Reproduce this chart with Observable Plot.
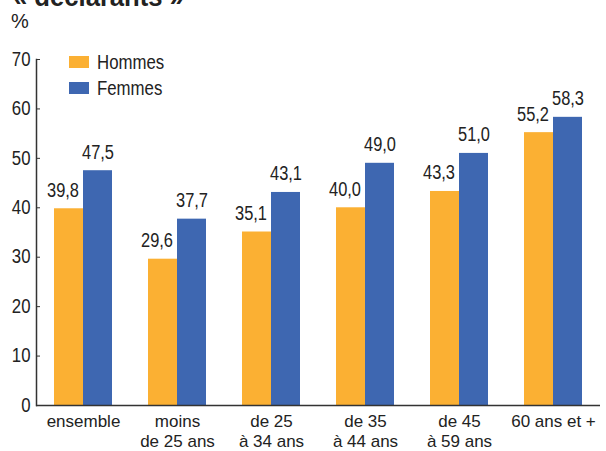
<!DOCTYPE html>
<html>
<head>
<meta charset="utf-8">
<script src="https://cdn.jsdelivr.net/npm/d3@7"></script>
<script src="https://cdn.jsdelivr.net/npm/@observablehq/plot@0.6"></script>
<style>
  html, body { margin: 0; padding: 0; background: #fff; }
  #wrap { position: relative; width: 606px; height: 451px; overflow: hidden; }
  #title { position: absolute; left: 13px; top: -19px; line-height: 1; font: bold 28px "Liberation Sans", Arial, sans-serif; color: #222; white-space: nowrap; transform: scaleX(0.915); transform-origin: left top; }
  #unit { position: absolute; left: 11px; top: 10px; line-height: 1; font: 20px "Liberation Sans", Arial, sans-serif; color: #222; }
  #legend { position: absolute; left: 69px; top: 49px; font: 20px "Liberation Sans", Arial, sans-serif; color: #222; }
  .item { display: flex; align-items: center; height: 26px; }
  .sw { width: 20px; height: 12px; margin-right: 8px; flex: none; }
  .lab { display: inline-block; transform: scaleX(0.84); transform-origin: left center; white-space: nowrap; }
</style>
</head>
<body>
<div id="wrap">
  <div id="title">« déclarants »</div>
  <div id="unit">%</div>
  <div id="legend"></div>
</div>
<script>
const categories = ["ensemble", "moins\nde 25 ans", "de 25\nà 34 ans", "de 35\nà 44 ans", "de 45\nà 59 ans", "60 ans et +"];
const series = ["Hommes", "Femmes"];
const hommes = [39.8, 29.6, 35.1, 40.0, 43.3, 55.2];
const femmes = [47.5, 37.7, 43.1, 49.0, 51.0, 58.3];
const yTicks = [0, 10, 20, 30, 40, 50, 60, 70];
const colors = ["#fbb033", "#3e67b1"];

const data = [];
categories.forEach((c, i) => {
  data.push({cat: c, sex: "Hommes", value: hommes[i]});
  data.push({cat: c, sex: "Femmes", value: femmes[i]});
});
const fmt = v => v.toFixed(1).replace(".", ",");

const chart = Plot.plot({
  width: 606,
  height: 451,
  marginLeft: 35,
  marginRight: 6,
  marginTop: 59,
  marginBottom: 46,
  style: {fontFamily: '"Liberation Sans", Arial, sans-serif', color: "#222", background: "transparent"},
  fx: {domain: categories, padding: 0, label: null, axis: null},
  x: {domain: series, paddingInner: 0, paddingOuter: 0.6, axis: null, label: null},
  y: {domain: [0, 70], label: null, axis: null},
  color: {domain: series, range: colors},
  marks: [
    Plot.barY(data, {fx: "cat", x: "sex", y: "value", fill: "sex"}),
    Plot.ruleY([0], {stroke: "#333", strokeWidth: 1.5}),
    Plot.frame({anchor: "left", facetAnchor: "left", stroke: "#333", strokeWidth: 1.5}),
    Plot.text(data.filter(d => d.sex === "Hommes"), {fx: "cat", x: "sex", y: "value", text: d => fmt(d.value), dy: -12, dx: -6, lineAnchor: "bottom", fontSize: 20, fill: "#222", className: "narrow"}),
    Plot.text(data.filter(d => d.sex === "Femmes"), {fx: "cat", x: "sex", y: "value", text: d => fmt(d.value), dy: -12, lineAnchor: "bottom", fontSize: 20, fill: "#222", className: "narrow"}),
    Plot.axisY({ticks: yTicks, tickSize: -4, tickPadding: 10, tickFormat: d => d, fontSize: 19.5, label: null, stroke: "#333", className: "narrowtick"}),
    Plot.axisFx({anchor: "bottom", tickSize: 0, tickPadding: 8, fontSize: 17, lineHeight: 1.15, label: null})
  ]
});
document.getElementById("wrap").prepend(chart);
chart.style.position = "absolute";
chart.style.left = "0";
chart.style.top = "0";

// emulate the condensed face of the reference's numbers
function condense(sel, k) {
  d3.select(chart).selectAll(sel).each(function() {
    const w = this.getComputedTextLength();
    if (w > 0) {
      this.setAttribute("textLength", (w * k).toFixed(2));
      this.setAttribute("lengthAdjust", "spacingAndGlyphs");
    }
  });
}
condense(".narrow text", 0.82);
condense(".narrowtick text", 0.86);

const legend = document.getElementById("legend");
series.forEach((s, i) => {
  const it = document.createElement("div");
  it.className = "item";
  it.innerHTML = `<span class="sw" style="background:${colors[i]}"></span><span class="lab">${s}</span>`;
  legend.appendChild(it);
});
</script>
</body>
</html>
